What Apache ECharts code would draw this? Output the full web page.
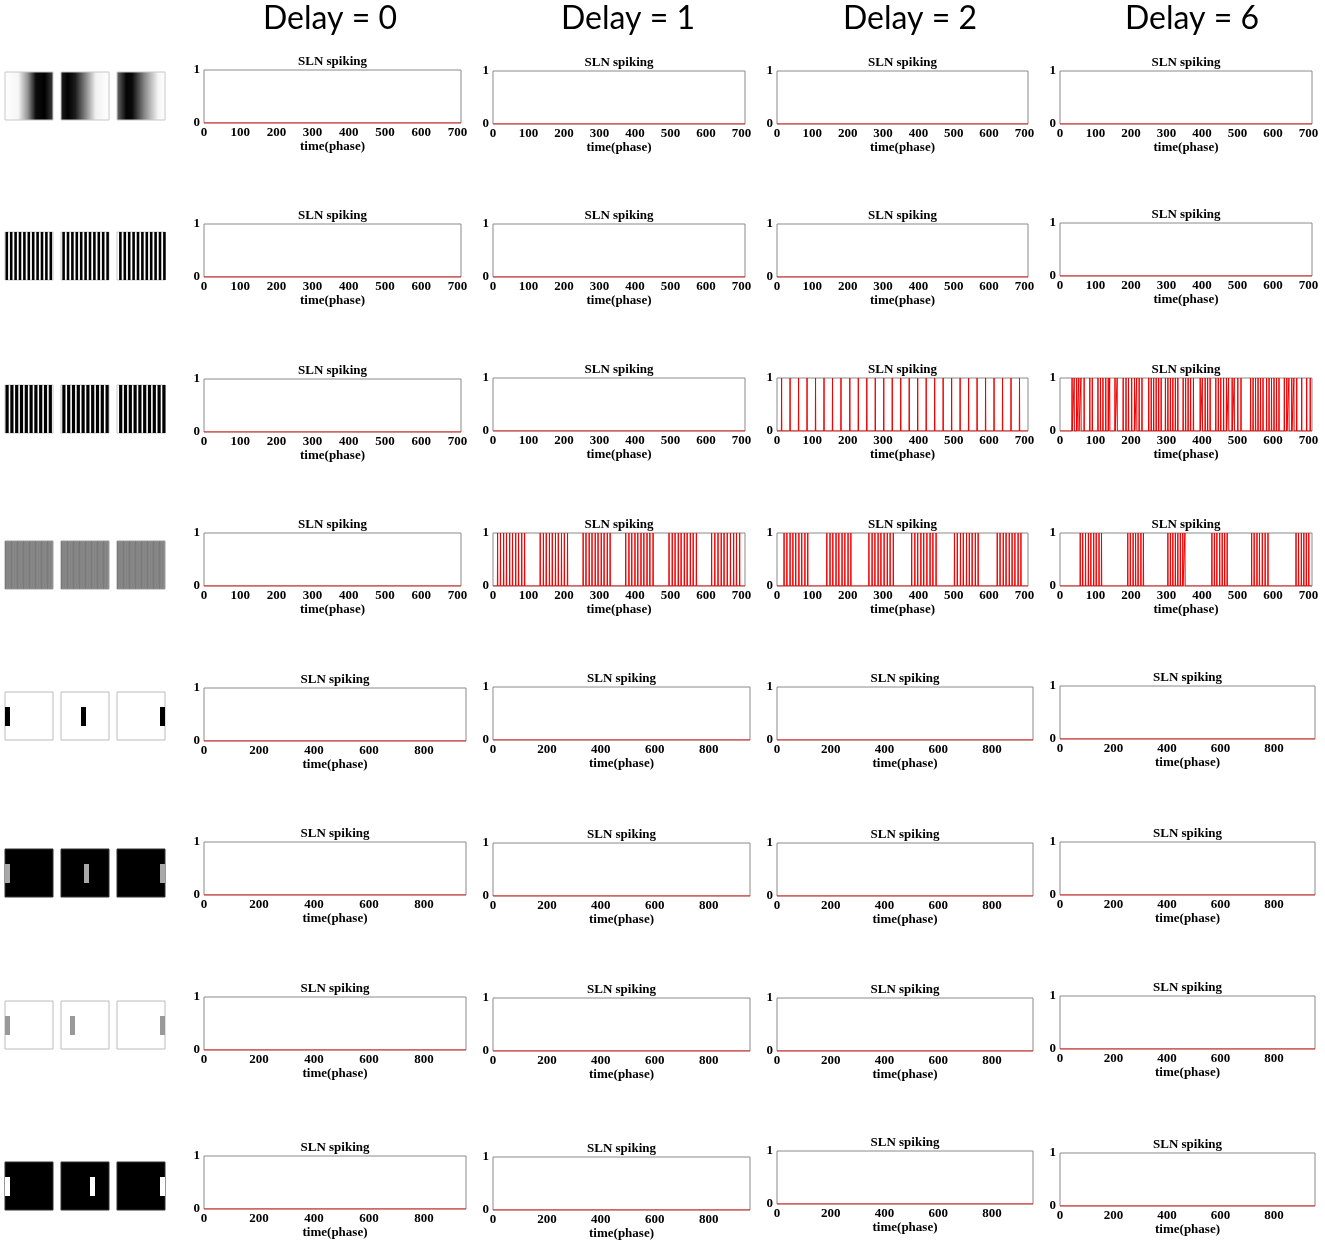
<!DOCTYPE html>
<html>
<head>
<meta charset="utf-8">
<script src="https://cdn.jsdelivr.net/npm/echarts@6/dist/echarts.min.js"></script>
<style>
  html, body { margin: 0; padding: 0; background: #fff; }
  #chart { width: 1325px; height: 1245px; }
</style>
</head>
<body>
<div id="chart"></div>
<script>
// column headers and panel texts
const delays = ["Delay = 0", "Delay = 1", "Delay = 2", "Delay = 6"];
const panelTitle = "SLN spiking";
const xName = "time(phase)";

// axis ranges / tick labels (rows 1-4 run to ~710, rows 5-8 to ~953)
const xMaxShort = 710;
const xMaxLong = 953;
const xTicksShort = [0, 100, 200, 300, 400, 500, 600, 700];
const xTicksLong = [0, 200, 400, 600, 800];
const yTicks = [0, 1];

// spike times
const spikesGratingD2 = [13, 37, 61, 85, 109, 133, 157, 181, 206, 230, 254, 278, 302, 326, 350,
  374, 398, 422, 446, 470, 494, 518, 542, 566, 590, 614, 638, 662, 686];
const spikesGratingD6 = [34, 40, 47, 53, 59, 68, 84, 91, 107, 114, 121, 129, 136, 140, 155, 161,
  178, 186, 193, 202, 210, 216, 223, 231, 250, 257, 264, 271, 278, 285, 297, 304, 311, 318, 325,
  332, 347, 354, 361, 368, 376, 395, 401, 409, 416, 423, 439, 446, 453, 461, 469, 475, 485, 491,
  501, 510, 537, 544, 551, 558, 565, 572, 582, 589, 596, 603, 610, 617, 632, 639, 645, 653, 659,
  667, 681, 695, 705];
const spikesFineD1 = [13, 21, 30, 38, 47, 55, 64, 72, 81, 89,
  133, 142, 150, 159, 167, 176, 184, 193, 201, 210,
  254, 262, 271, 279, 288, 296, 305, 313, 322, 330,
  374, 383, 391, 400, 408, 417, 425, 434, 442, 451,
  496, 505, 513, 522, 530, 539, 547, 556, 564, 573,
  616, 625, 634, 643, 651, 660, 669, 678, 686, 695];
const spikesFineD2 = [20, 28, 37, 45, 53, 62, 70, 79, 87,
  141, 150, 158, 167, 175, 184, 192, 201, 209,
  260, 269, 277, 286, 294, 303, 312, 320, 329,
  381, 390, 398, 407, 415, 424, 433, 441, 450,
  502, 510, 519, 527, 536, 544, 552, 561, 569,
  623, 631, 640, 648, 657, 665, 673, 682, 690];
const spikesFineD6 = [57, 64, 72, 80, 87, 95, 102, 110, 117,
  191, 198, 206, 213, 220, 228, 235,
  304, 311, 318, 325, 332, 339, 346, 352,
  428, 435, 442, 450, 457, 464, 471,
  540, 547, 555, 562, 570, 578, 586,
  665, 672, 680, 687, 694, 701];
const none = [];

const spikeRows = [
  [none, none, none, none],
  [none, none, none, none],
  [none, none, spikesGratingD2, spikesGratingD6],
  [none, spikesFineD1, spikesFineD2, spikesFineD6],
  [none, none, none, none],
  [none, none, none, none],
  [none, none, none, none],
  [none, none, none, none]
];

// layout (pixels)
const colLeft = [204, 493, 777, 1060];
const colWidthShort = [257, 252, 251, 252];
const colWidthLong = [262, 257, 256, 255];
const gridTop = [
  [70, 71, 71, 71],
  [224, 224, 224, 223],
  [379, 378, 378, 378],
  [533, 533, 533, 533],
  [688, 687, 687, 686],
  [842, 843, 843, 842],
  [997, 998, 998, 996],
  [1156, 1157, 1151, 1153]
];
const gridH = 53;
const headerX = [330, 628, 910, 1192];

const serif = '"Times New Roman", "Liberation Serif", serif';

const grids = [], xAxes = [], yAxes = [], series = [], graphics = [];

spikeRows.forEach(function (row, r) {
  const longRow = r >= 4;
  const xMax = longRow ? xMaxLong : xMaxShort;
  const ticks = longRow ? xTicksLong : xTicksShort;
  row.forEach(function (spikes, c) {
    const i = grids.length;
    const w = longRow ? colWidthLong[c] : colWidthShort[c];
    grids.push({
      left: colLeft[c], top: gridTop[r][c], width: w, height: gridH,
      show: true, borderColor: "#8a8a8a", borderWidth: 1, backgroundColor: "#fff"
    });
    xAxes.push({
      gridIndex: i, type: "value", min: 0, max: xMax, interval: ticks[1],
      axisLine: { show: false }, axisTick: { show: false }, splitLine: { show: false },
      axisLabel: {
        margin: 3, color: "#000", fontFamily: serif, fontWeight: "bold", fontSize: 13,
        formatter: function (v) { return ticks.indexOf(v) >= 0 ? String(v) : ""; }
      },
      name: xName, nameLocation: "middle", nameGap: 16,
      nameTextStyle: { color: "#000", fontFamily: serif, fontWeight: "bold", fontSize: 13 }
    });
    yAxes.push({
      gridIndex: i, type: "value", min: yTicks[0], max: yTicks[1], interval: 1,
      axisLine: { show: false }, axisTick: { show: false }, splitLine: { show: false },
      axisLabel: { margin: 4, color: "#000", fontFamily: serif, fontWeight: "bold", fontSize: 13 }
    });
    // spike train drawn as 0/1 trace
    const pts = [[0, 0]];
    spikes.forEach(function (t) {
      pts.push([t - 0.6, 0], [t, 1], [t + 0.6, 0]);
    });
    pts.push([xMax, 0]);
    series.push({
      type: "line", xAxisIndex: i, yAxisIndex: i, data: pts,
      showSymbol: false, symbol: "none", animation: false,
      lineStyle: { color: "#f00000", width: 1 }
    });
    graphics.push({
      type: "text", silent: true,
      x: colLeft[c] + w / 2, y: gridTop[r][c] - 8,
      style: {
        text: panelTitle, fill: "#000", font: "bold 13px " + serif,
        textAlign: "center", align: "center", textVerticalAlign: "middle", verticalAlign: "middle"
      }
    });
  });
});

delays.forEach(function (d, c) {
  graphics.push({
    type: "text", silent: true, x: headerX[c], y: 19,
    style: {
      text: d, fill: "#000", font: '32px Lato, "Open Sans", sans-serif',
      textAlign: "center", align: "center", textVerticalAlign: "middle", verticalAlign: "middle"
    }
  });
});

// stimulus thumbnails in the left column
const thumbX = [5, 61, 117];
const thumbTop = [72, 232, 385, 541, 692, 849, 1001, 1162];
const thumbS = 48;

function rect(x, y, w, h, fill, stroke) {
  graphics.push({
    type: "rect", silent: true,
    shape: { x: x, y: y, width: w, height: h },
    style: { fill: fill, stroke: stroke || null, lineWidth: stroke ? 1 : 0 }
  });
}
function grad(stops) {
  return {
    type: "linear", x: 0, y: 0, x2: 1, y2: 0,
    colorStops: stops.map(function (s) { return { offset: s[0], color: s[1] }; })
  };
}

// row 1: smooth sinusoidal gratings at three phases
const phaseStops = [
  [[0, "#ffffff"], [0.28, "#f6f6f6"], [0.48, "#909090"], [0.64, "#0c0c0c"], [0.82, "#000"], [1, "#404040"]],
  [[0, "#202020"], [0.15, "#000"], [0.3, "#1c1c1c"], [0.5, "#808080"], [0.72, "#f2f2f2"], [1, "#fff"]],
  [[0, "#707070"], [0.2, "#050505"], [0.32, "#0a0a0a"], [0.58, "#8c8c8c"], [0.85, "#f5f5f5"], [1, "#fff"]]
];
thumbX.forEach(function (x, k) {
  rect(x, thumbTop[0], thumbS, thumbS, grad(phaseStops[k]), "#c8c8c8");
});

// rows 2-3: square-wave gratings
[[1, 11, 4.4, 2.6], [2, 10, 4.8, 3.2]].forEach(function (cfg) {
  const r = cfg[0];
  thumbX.forEach(function (x, k) {
    rect(x, thumbTop[r], thumbS, thumbS, "#fff", "#c8c8c8");
    for (let s = 0; s < cfg[1]; s++) {
      rect(x + 0.5 + k * 0.8 + s * cfg[2], thumbTop[r], cfg[3], thumbS, "#000");
    }
  });
});

// row 4: very fine grating, seen as grey
thumbX.forEach(function (x) {
  rect(x, thumbTop[3], thumbS, thumbS, "#838383", "#a0a0a0");
  for (let s = 0; s < 24; s++) {
    rect(x + s * 2, thumbTop[3], 1, thumbS, s % 3 === 0 ? "#7a7a7a" : "#888888");
  }
});

// rows 5-8: moving bar stimuli
const barRows = [
  { r: 4, bg: "#fff", bar: "#000", xs: [0, 20, 43] },
  { r: 5, bg: "#000", bar: "#a8a8a8", xs: [0, 23, 43] },
  { r: 6, bg: "#fff", bar: "#999", xs: [0, 9, 43] },
  { r: 7, bg: "#000", bar: "#fff", xs: [0, 29, 43] }
];
barRows.forEach(function (b) {
  thumbX.forEach(function (x, k) {
    rect(x, thumbTop[b.r], thumbS, thumbS, b.bg, b.bg === "#fff" ? "#bcbcbc" : "#333");
    rect(x + b.xs[k], thumbTop[b.r] + 15, 5, 19, b.bar);
  });
});

const chart = echarts.init(document.getElementById("chart"));
chart.setOption({
  animation: false,
  grid: grids,
  xAxis: xAxes,
  yAxis: yAxes,
  series: series,
  graphic: graphics
});
</script>
</body>
</html>
